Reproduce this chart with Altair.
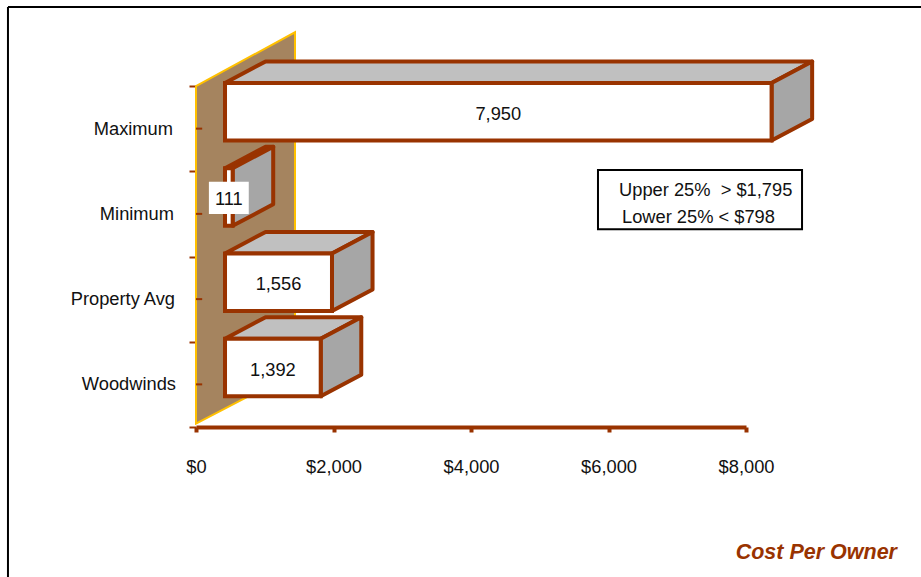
import altair as alt
import pandas as pd

categories = ["Woodwinds", "Property Avg", "Minimum", "Maximum"]
values = [1392, 1556, 111, 7950]
x_ticks = [0, 2000, 4000, 6000, 8000]
y_ticks = [0, 1, 2, 3, 4]
note_lines = ["Upper 25%\u00a0\u00a0> $1,795", "Lower\u00a025% < $798"]
caption = "Cost Per Owner"

RUST = "#993300"
FONT = "Liberation Sans"
TEXT = "#111111"
FONT_SIZE = 18.3
X_MAX, Y_MAX = 8000, 4

# Extrusion of the pseudo-3D bars, in axis units
BAR_START = 422
DEPTH_X = 590
DEPTH_Y = 0.253
BAR_LOW = 0.36
BAR_HIGH = 1.035

x_scale = alt.Scale(domain=[0, X_MAX], nice=False, zero=False)
y_scale = alt.Scale(domain=[0, Y_MAX], nice=False, zero=False)
X = lambda f, **k: alt.X(f, type="quantitative", scale=x_scale, title=None, stack=False, **k)
Y = lambda f, **k: alt.Y(f, type="quantitative", scale=y_scale, title=None, stack=False, **k)

front_rows, top_rows, side_rows = [], [], []
for i, (cat, val) in enumerate(zip(categories, values)):
    x1 = BAR_START + val
    lo, hi = i + BAR_LOW, i + BAR_HIGH
    xc = (BAR_START + x1) / 2
    yc = (lo + hi) / 2
    front_rows.append(dict(cat=cat, val=val, x0=BAR_START, x1=x1, lo=lo, hi=hi,
                           xc=xc, yc=yc - 0.035,
                           box0=xc - 290, box1=xc + 290,
                           boxlo=yc - 0.2, boxhi=yc + 0.18))
    top_rows += [dict(cat=cat, y=hi, a=BAR_START, b=x1),
                 dict(cat=cat, y=hi + DEPTH_Y, a=BAR_START + DEPTH_X, b=x1 + DEPTH_X)]
    side_rows += [dict(cat=cat, x=x1, a=lo, b=hi),
                  dict(cat=cat, x=x1 + DEPTH_X, a=lo + DEPTH_Y, b=hi + DEPTH_Y)]
front = pd.DataFrame(front_rows)
tops = pd.DataFrame(top_rows)
sides = pd.DataFrame(side_rows)

wall = alt.Chart(pd.DataFrame([dict(x=0, a=0.04, b=4.0), dict(x=1440, a=0.645, b=4.63)])).mark_area(
    orient="vertical", color="#A5845F", stroke="#FFC000", strokeWidth=2
).encode(x=X("x:Q"), y=Y("a:Q"), y2="b:Q")

# Axes carry the dollar scale and the major category ticks
axes = alt.Chart(pd.DataFrame({"x": [0], "y": [0]})).mark_point(opacity=0).encode(
    x=X("x:Q", axis=alt.Axis(values=x_ticks, format="$,.0f", grid=False, domainColor=RUST,
                             domainWidth=4, tickColor=RUST, tickWidth=4, tickSize=5,
                             labelFont=FONT, labelFontSize=FONT_SIZE, labelColor=TEXT,
                             labelPadding=35, labelBaseline="middle", labelFlush=False)),
    y=Y("y:Q", axis=alt.Axis(values=y_ticks, labels=False, grid=False, domain=False,
                             tickColor=RUST, tickWidth=2, tickSize=7)),
)

minor_ticks = alt.Chart(pd.DataFrame({"y": [i + 0.5 for i in range(4)], "x": [0] * 4, "x2": [90] * 4})).mark_rule(
    color=RUST, strokeWidth=2
).encode(x=X("x:Q"), x2="x2:Q", y=Y("y:Q"))

cat_labels = alt.Chart(pd.DataFrame({"cat": categories, "y": [i + 0.488 for i in range(4)],
                                     "x": [-291, -305, -320, -335]})).mark_text(
    align="right", baseline="middle", font=FONT, fontSize=FONT_SIZE, color=TEXT
).encode(x=X("x:Q"), y=Y("y:Q"), text="cat:N")

top_faces = alt.Chart(tops).mark_area(
    orient="horizontal", color="#C0C0C0", stroke=RUST, strokeWidth=4, strokeJoin="round"
).encode(y=Y("y:Q"), x=X("a:Q"), x2="b:Q", detail="cat:N")

side_faces = alt.Chart(sides).mark_area(
    orient="vertical", color="#A6A6A6", stroke=RUST, strokeWidth=4, strokeJoin="round"
).encode(x=X("x:Q"), y=Y("a:Q"), y2="b:Q", detail="cat:N")

front_faces = alt.Chart(front).mark_rect(fill="white", stroke=RUST, strokeWidth=4).encode(
    x=X("x0:Q"), x2="x1:Q", y=Y("lo:Q"), y2="hi:Q"
)

small = front[front.val < 500]
value_boxes = alt.Chart(small).mark_rect(fill="white").encode(
    x=X("box0:Q"), x2="box1:Q", y=Y("boxlo:Q"), y2="boxhi:Q"
)
value_labels = alt.Chart(front).mark_text(font=FONT, fontSize=FONT_SIZE, color=TEXT, baseline="middle").encode(
    x=X("xc:Q"), y=Y("yc:Q"), text=alt.Text("val:Q", format=",")
)

note_box = alt.Chart(pd.DataFrame([dict(x=5847, x2=8815, y=2.32, y2=3.015)])).mark_rect(
    fill="white", stroke="black", strokeWidth=2
).encode(x=X("x:Q"), x2="x2:Q", y=Y("y:Q"), y2="y2:Q")
note_text = alt.Chart(pd.DataFrame({"t": note_lines, "x": [6153, 6196], "y": [2.77, 2.45]})).mark_text(
    align="left", baseline="middle", font=FONT, fontSize=FONT_SIZE, color=TEXT
).encode(x=X("x:Q"), y=Y("y:Q"), text="t:N")

caption_mark = alt.Chart(pd.DataFrame({"t": [caption], "x": [10196], "y": [-1.482]})).mark_text(
    align="right", baseline="middle", font=FONT, fontSize=21.5, fontWeight="bold", fontStyle="italic", color=RUST
).encode(x=X("x:Q"), y=Y("y:Q"), text="t:N")

# Outer border: only the top and left edges fall inside the page
border_top = alt.Chart(pd.DataFrame([dict(x=-2735, x2=10600, y=4.927)])).mark_rule(color="black", strokeWidth=2).encode(
    x=X("x:Q"), x2="x2:Q", y=Y("y:Q"))
border_left = alt.Chart(pd.DataFrame([dict(x=-2735, y=4.927, y2=-1.8)])).mark_rule(color="black", strokeWidth=2).encode(
    x=X("x:Q"), y=Y("y:Q"), y2="y2:Q")

chart = alt.layer(
    border_top, border_left, wall, axes, minor_ticks, cat_labels,
    top_faces, side_faces, front_faces, value_boxes, value_labels,
    note_box, note_text, caption_mark,
).properties(
    width=550, height=341,
    padding={"left": 196, "top": 86, "right": 175, "bottom": 150},
    autosize=alt.AutoSizeParams(type="none"),
    background="white",
).configure_view(stroke=None)

chart.save("out.html", embed_options={"renderer": "svg", "actions": False})
